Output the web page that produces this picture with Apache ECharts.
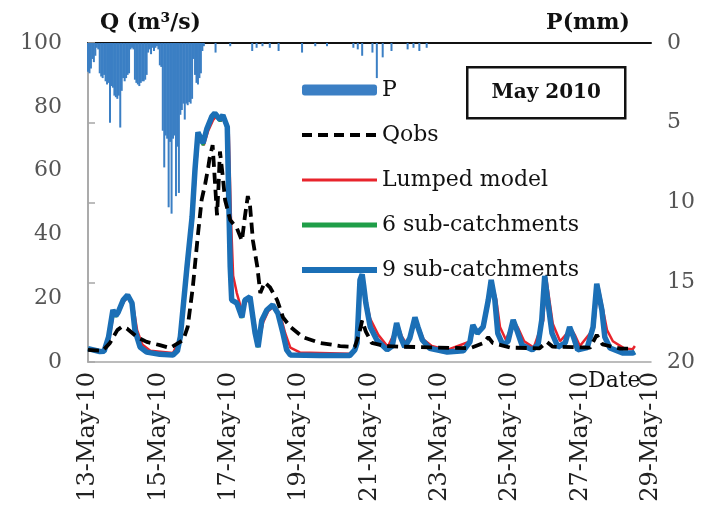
<!DOCTYPE html>
<html>
<head>
<meta charset="utf-8">
<script src="https://cdn.jsdelivr.net/npm/echarts@6/dist/echarts.min.js"></script>
<style>
  html, body { margin: 0; padding: 0; background: #fff; }
  #chart { width: 708px; height: 515px; }
</style>
</head>
<body>
<div id="chart"></div>
<script>
// Flood event of May 2010: hourly rainfall hanging from the top (right axis, mm)
// and observed vs simulated discharge (left axis, m3/s).
// All times are hours counted from 13 May 2010 00:00.

const dayTickLabels = ['13-May-10', '15-May-10', '17-May-10', '19-May-10', '21-May-10',
  '23-May-10', '25-May-10', '27-May-10', '29-May-10'];

// Hourly rainfall (mm) for the main storm, from hour 0
const rainHourly = [1.8, 1.9, 1.6, 1.0, 1.2, 0.8, 0.3, 0.4, 1.9, 2.1, 2.2, 2.0, 2.4, 2.6, 2.5, 5.0,
  2.7, 2.8, 3.3, 3.4, 3.5, 3.3, 5.3, 3.0, 2.2, 2.4, 2.2, 2.0, 1.9, 0.4, 0.3, 0.4, 2.3, 2.5, 2.6, 2.7,
  2.5, 2.4, 2.4, 2.3, 2.0, 0.6, 0.4, 0.7, 0.3, 0.5, 0.3, 0.2, 0.4, 1.4, 1.5, 5.5, 7.8, 5.8, 6.0, 10.3,
  6.2, 10.7, 6.0, 5.8, 9.6, 6.5, 9.4, 4.5, 4.2, 3.8, 4.8, 3.8, 3.9, 3.7, 3.8, 3.5, 1.0, 2.0, 2.5, 2.6,
  2.2, 1.9, 0.5, 0.2];
// Scattered light showers afterwards
const rainLateHours = [87, 97, 112, 115, 119, 124, 130, 146, 155, 163, 181, 184, 187, 194, 197, 201, 207, 218, 222, 226, 231];
const rainLateMm = [0.6, 0.2, 0.5, 0.3, 0.2, 0.3, 0.5, 0.6, 0.2, 0.2, 0.3, 0.4, 0.8, 0.6, 2.2, 0.9, 0.5, 0.4, 0.3, 0.5, 0.3];

// Observed discharge
const qobsHours = [0, 10, 15, 20, 23, 26.5, 33.5, 40, 49, 56, 65, 68, 71.5, 75, 77.5, 80, 82, 83, 85, 86.5,
  88, 89, 90, 91.5, 93.5, 97, 101.5, 105, 107, 109, 110.5, 112.5, 115.5, 117.5, 120.5, 124, 129, 133, 138, 146.5,
  158, 172, 182, 185, 187, 189.5, 193.5, 202.5, 213, 233, 260.5, 270, 273, 276, 288, 308, 313, 317, 342.5, 347,
  351, 363, 372];
const qobsValues = [3.8, 3.5, 6, 10, 11, 10.5, 7.8, 6.3, 5.3, 4.4, 6.9, 11, 23.5, 40, 50.8, 56, 61, 64, 68, 57,
  46, 55, 66, 60, 50.8, 44.5, 42, 38, 45.5, 52, 49, 38, 29.8, 21.6, 25, 23.5, 19.4, 14, 11, 7.8,
  6, 5, 4.7, 9, 13, 9.5, 6, 5, 4.8, 4.6, 4.3, 6, 7.8, 6, 4.5, 4.3, 6.3, 4.8, 4.5, 8.5,
  5.5, 4.2, 4.2];

// Lumped model
const lumpedHours = [0, 11, 14.5, 17.5, 20.5, 24.5, 28, 30.5, 33.5, 37, 42.5, 58, 62.5, 68, 71.5, 73.5, 75.5, 79, 82, 85.5,
  87.5, 90.5, 93, 96, 97.5, 99, 101.5, 105, 108, 111, 114.5, 116.5, 119.5, 123, 127, 131, 134.5, 138, 144.5, 178.5,
  183, 186, 187.5, 189.5, 192.5, 198, 204.5, 211.5, 214, 217.5, 223.5, 226.5, 229, 234.5, 245, 261, 263.5, 266, 270, 273.5,
  275.5, 278.5, 281, 285, 290.5, 293.5, 297.5, 304, 310.5, 312.5, 314.5, 317, 322, 329.5, 332, 335.5, 345, 348, 351, 354,
  358, 366, 371.5, 373];
const lumpedValues = [4.0, 3.2, 7, 15.5, 15, 19, 20.5, 18.5, 10, 5.5, 3.5, 2.8, 7, 29, 45, 60, 71, 68, 72.5, 76,
  77, 75.5, 76.5, 72, 45, 27, 21.6, 16, 19, 19.5, 10, 6, 12.5, 16, 17.5, 15, 9, 4.5, 3, 2.6,
  4.5, 25, 26.5, 20, 13.5, 8.5, 4.8, 11.5, 8, 5.5, 13.5, 10, 7, 5, 3.8, 6.5, 11, 9.5, 11, 19,
  25, 19.5, 11, 7, 12.8, 10.5, 6.5, 4.5, 13, 26.5, 20, 12, 6.5, 10.5, 8.5, 5, 10.5, 24, 17, 10,
  6.5, 4.2, 4, 5];

// Semi-distributed models (6 and 9 sub-catchments) share the same output times
const subHours = [0, 8, 11, 14, 17, 19, 20.5, 24, 27, 30, 32, 35.5, 40, 49, 58, 61, 63, 67.5, 71, 73,
  75, 78.5, 81, 84.5, 86.5, 90, 92, 95, 96, 97, 98, 101.5, 105, 107, 110.5, 114, 116, 118.5, 122, 126,
  129.5, 133, 135.5, 138, 158, 178.5, 182, 183.5, 185.5, 187, 188, 189.5, 192.5, 197, 204, 207.5, 210.5, 213, 216, 219.5,
  223, 225, 228, 233, 245, 256, 260.5, 262.5, 265.5, 269.5, 273, 275, 277.5, 279.5, 283, 286.5, 290, 292.5, 296, 303,
  307, 309.5, 311.5, 313.5, 316.5, 320.5, 325.5, 328.5, 331, 334, 340.5, 344.5, 347, 350.5, 352.5, 356, 365, 371.5, 373];
const sub6Values = [4.1, 3.2, 3.3, 7.5, 15.8, 14.2, 15.2, 19, 20.6, 18.2, 9.6, 4.6, 3.0, 2.3, 2.1, 3.4, 7.6, 29, 45, 60,
  71.5, 68, 72.5, 76.5, 77.5, 75.5, 77, 73, 49, 29, 19.2, 18.3, 13.8, 19, 20, 8.8, 4.6, 12.7, 16, 17.6,
  15, 8.8, 3.7, 2.1, 2.0, 2.0, 3.7, 5.8, 25.2, 27, 23.6, 18.2, 10.8, 6.8, 3.7, 4.9, 12, 7.8, 4.6, 7.3,
  13.7, 10.8, 6.8, 4.2, 3.0, 3.4, 6.2, 11.3, 8.8, 10.8, 19, 25.2, 19, 8.8, 5.2, 6.4, 13, 9.8, 5.2, 3.7,
  5.4, 13, 26.5, 19, 8.8, 4.6, 5.9, 10.8, 7.8, 3.7, 4.4, 10.8, 24, 16, 7.6, 4.3, 2.7, 2.7, 3.1];
const sub9Values = [4.2, 3.3, 3.4, 7.8, 16.3, 14.5, 15.5, 19.4, 21, 18.5, 10, 4.7, 3.1, 2.4, 2.2, 3.5, 8, 29.8, 45.5, 60.5,
  72, 68.6, 73, 77, 78, 76, 77.4, 73.7, 50.8, 29.8, 19.4, 18.5, 14, 19.4, 20.4, 9, 4.7, 13, 16.3, 17.9,
  15.3, 9, 3.8, 2.2, 2.0, 2.0, 3.8, 6, 25.7, 27.5, 24, 18.5, 11, 6.9, 3.8, 5, 12.2, 8, 4.7, 7.5,
  14, 11, 6.9, 4.3, 3.1, 3.5, 6.3, 11.6, 9, 11, 19.4, 25.7, 19.4, 9, 5.3, 6.5, 13.2, 10, 5.3, 3.8,
  5.5, 13.2, 27, 19.4, 9, 4.7, 6, 11, 8, 3.8, 4.5, 11, 24.5, 16.3, 7.8, 4.4, 2.8, 2.8, 3.2];

// x axis runs in days since 13 May 00:00
const toPoints = (hours, values) => hours.map((h, i) => [h / 24, values[i]]);
const rainPoints = rainHourly.map((v, i) => [i / 24, v])
  .concat(toPoints(rainLateHours, rainLateMm));

const SERIF = 'DejaVu Serif';
const AXIS_GREY = '#a6a6a6';
const TITLE_FONT = { fontFamily: SERIF, fontWeight: 'bold', fontSize: 22, fill: '#111' };

// Hide the marker in the middle of each line legend icon
const lineLegend = (name, lineStyle) => ({ name, itemStyle: { opacity: 0 }, lineStyle });

const chart = echarts.init(document.getElementById('chart'), null, { renderer: 'canvas' });

chart.setOption({
  animation: false,
  backgroundColor: '#fff',
  grid: { left: 88, right: 57, top: 43, bottom: 153, containLabel: false, outerBoundsMode: 'none' },
  legend: {
    data: [
      { name: 'P' },
      lineLegend('Qobs', { width: 4, type: [10, 6], color: '#000' }),
      lineLegend('Lumped model', { width: 3, color: '#e8242c' }),
      lineLegend('6 sub-catchments', { width: 5, color: '#1f9e48' }),
      lineLegend('9 sub-catchments', { width: 6, color: '#1b6fb6' })
    ],
    orient: 'vertical',
    left: 294,
    top: 74,
    itemWidth: 75,
    itemHeight: 11,
    itemGap: 23,
    textStyle: { fontFamily: SERIF, fontSize: 22, color: '#111' }
  },
  xAxis: [
    {
      type: 'value', min: 0, max: 16, interval: 2, position: 'bottom',
      axisLine: { lineStyle: { color: AXIS_GREY, width: 1.5 } },
      axisTick: { show: false },
      splitLine: { show: false },
      axisLabel: {
        rotate: 90, margin: 10, fontFamily: SERIF, fontSize: 24, color: '#222',
        formatter: v => dayTickLabels[Math.round(v / 2)]
      }
    },
    {
      type: 'value', min: 0, max: 16, position: 'top',
      axisLine: { lineStyle: { color: '#111', width: 2 } },
      axisTick: { show: false }, axisLabel: { show: false }, splitLine: { show: false }
    }
  ],
  yAxis: [
    {
      type: 'value', min: 0, max: 100, interval: 20, position: 'left',
      axisLine: { show: true, lineStyle: { color: AXIS_GREY, width: 1.5 } },
      axisTick: { show: false },
      splitLine: { show: false },
      axisLabel: { margin: 26, fontFamily: SERIF, fontSize: 22, color: '#555' }
    },
    {
      type: 'value', min: 0, max: 20, interval: 5, inverse: true, position: 'right',
      axisLine: { show: true, lineStyle: { color: AXIS_GREY, width: 1.5 } },
      axisTick: { show: true, inside: false, length: 7, lineStyle: { color: AXIS_GREY, width: 1.5 } },
      splitLine: { show: false },
      axisLabel: { margin: 16, fontFamily: SERIF, fontSize: 22, color: '#555' }
    }
  ],
  graphic: [
    // axis titles
    { type: 'text', left: 100, top: 12, style: Object.assign({ text: 'Q (m³/s)' }, TITLE_FONT) },
    { type: 'text', right: 78, top: 12, style: Object.assign({ text: 'P(mm)' }, TITLE_FONT) },
    { type: 'text', left: 588, top: 370, style: { text: 'Date', fontFamily: SERIF, fontSize: 22, fill: '#111' } },
    // event label box
    {
      type: 'group', left: 466, top: 66,
      children: [
        { type: 'rect', shape: { x: 0, y: 0, width: 158, height: 51 }, style: { fill: '#fff', stroke: '#111', lineWidth: 2.5 } },
        { type: 'text', x: 79, y: 26, style: { text: 'May 2010', fontFamily: SERIF, fontWeight: 'bold', fontSize: 20, fill: '#111', align: 'center', verticalAlign: 'middle' } }
      ]
    }
  ],
  series: [
    {
      name: 'P', type: 'bar', xAxisIndex: 0, yAxisIndex: 1,
      data: rainPoints, barWidth: 2,
      itemStyle: { color: '#3b7fc4' }, z: 2
    },
    {
      name: 'Qobs', type: 'line', xAxisIndex: 0, yAxisIndex: 0,
      data: toPoints(qobsHours, qobsValues), symbol: 'none',
      lineStyle: { color: '#000', width: 3.8, type: [11, 6] },
      itemStyle: { color: '#000' }, z: 6
    },
    {
      name: 'Lumped model', type: 'line', xAxisIndex: 0, yAxisIndex: 0,
      data: toPoints(lumpedHours, lumpedValues), symbol: 'none',
      lineStyle: { color: '#e8242c', width: 2.5 },
      itemStyle: { color: '#e8242c' }, z: 3
    },
    {
      name: '6 sub-catchments', type: 'line', xAxisIndex: 0, yAxisIndex: 0,
      data: toPoints(subHours, sub6Values), symbol: 'none',
      lineStyle: { color: '#1f9e48', width: 3 },
      itemStyle: { color: '#1f9e48' }, z: 4
    },
    {
      name: '9 sub-catchments', type: 'line', xAxisIndex: 0, yAxisIndex: 0,
      data: toPoints(subHours, sub9Values), symbol: 'none',
      lineStyle: { color: '#1b6fb6', width: 5.5 },
      itemStyle: { color: '#1b6fb6' }, z: 5
    }
  ]
});
</script>
</body>
</html>
